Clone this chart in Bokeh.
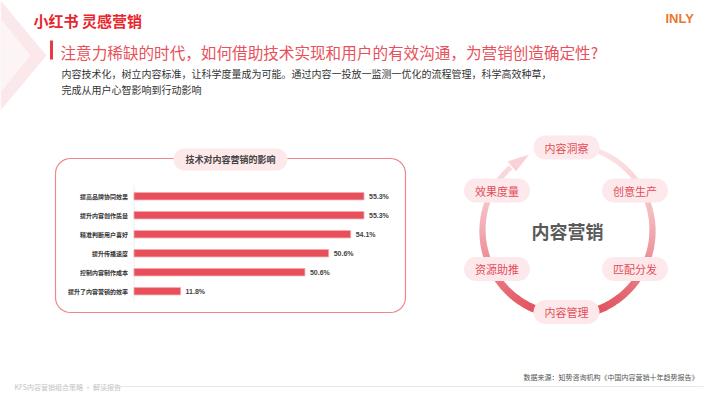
import numpy as np
from bokeh.plotting import figure
from bokeh.models import Range1d
from bokeh.core.properties import value
from bokeh.embed import file_html
from bokeh.resources import INLINE

# ---------------- data ----------------
categories = ["提高品牌协同效果", "提升内容创作质量", "精准判断用户喜好",
              "提升传播速度", "控制内容制作成本", "提升了内容营销的效率"]
label_values = [55.3, 55.3, 54.1, 50.6, 50.6, 11.8]      # printed percentages
bar_lengths = [55.3, 55.3, 52.1, 46.8, 41.1, 11.2]        # bar lengths as drawn in the source graphic
cycle_steps = ["内容洞察", "创意生产", "匹配分发", "内容管理", "资源助推", "效果度量"]

CJK = value("Noto Sans CJK SC")
LAT = value("Liberation Sans")

FW, FH = 704, 396
p = figure(width=FW, height=FH, x_range=Range1d(0, FW), y_range=Range1d(405 - FH, 405),
           output_backend="svg", toolbar_location=None, min_border=0,
           x_axis_location=None, y_axis_location=None)
p.grid.visible = False
p.outline_line_color = None
p.background_fill_color = "white"
p.border_fill_color = "white"


def Y(y):
    return 405 - y


def txt(x, y, s, size, color, align="left", bold=False, font=CJK):
    p.text(x=[x], y=[Y(y)], text=[s], text_font=font, text_font_size=f"{size}px",
           text_color=color, text_align=align, text_baseline="middle",
           text_font_style="bold" if bold else "normal")


def rrect(x0, y0, x1, y1, r, n=10):
    xs, ys = [], []
    corners = [(x1 - r, y0 + r, -90, 0), (x1 - r, y1 - r, 0, 90),
               (x0 + r, y1 - r, 90, 180), (x0 + r, y0 + r, 180, 270)]
    for cx, cy, a0, a1 in corners:
        for a in np.linspace(np.radians(a0), np.radians(a1), n):
            xs.append(cx + r * np.cos(a))
            ys.append(Y(cy + r * np.sin(a)))
    return xs, ys


# ---------------- header decoration ----------------
p.patch([0, 46, 0], [Y(0), Y(55), Y(110)], fill_color="#fbe6e8", line_color=None, fill_alpha=0.9)
p.patch([0, 30, 0], [Y(18), Y(55), Y(92)], fill_color="#fdf4f5", line_color=None)

txt(33, 20, "小红书 灵感营销", 15, "#e8262d", bold=True)
txt(665, 18, "INLY", 13, "#e8782c", bold=True, font=LAT)
p.quad(left=[49.5], right=[52.5], top=[Y(40)], bottom=[Y(59)], fill_color="#e83a45", line_color=None)
txt(60, 51, "注意力稀缺的时代，如何借助技术实现和用户的有效沟通，为营销创造确定性?", 15.6, "#e8515b")
txt(61, 73, "内容技术化，树立内容标准，让科学度量成为可能。通过内容一投放一监测一优化的流程管理，科学高效种草，",
    10, "#333333")
txt(61, 89, "完成从用户心智影响到行动影响", 10, "#333333")

# ---------------- bar panel ----------------
xs, ys = rrect(55, 158, 405, 312, 15)
p.patch(xs, ys, fill_color="white", line_color="#f0868c", line_width=1.2)
xs, ys = rrect(173, 148, 287, 170, 11)
p.patch(xs, ys, fill_color="#fde8ea", line_color=None)
txt(230, 159, "技术对内容营销的影响", 9, "#444444", align="center", bold=True)

# bar chart mapped through extra ranges: value 0 at px 133.5, 55.3 at px 363.5; rows 19px apart
bar_x0, px_per_unit = 133.5, 230.0 / 55.3
row0, row_step = 195.7, 19.0
p.extra_x_ranges = {"bars": Range1d((0 - bar_x0) / px_per_unit, (FW - bar_x0) / px_per_unit)}
p.extra_y_ranges = {"rows": Range1d((FH - row0) / row_step, (0 - row0) / row_step)}
idx = list(range(len(categories)))

p.segment(x0=[0], y0=[-0.6], x1=[0], y1=[len(categories) - 0.4], line_color="#eeeeee",
          line_width=1, x_range_name="bars", y_range_name="rows")
p.hbar(y=idx, left=0, right=bar_lengths, height=0.39, fill_color="#e84f5b",
       line_color="#f4aab0", line_width=0.8, x_range_name="bars", y_range_name="rows")
p.text(x=[0] * len(idx), y=idx, text=categories, x_offset=-6, text_align="right",
       text_baseline="middle", text_font=CJK, text_font_size="6px", text_font_style="bold",
       text_color="#333333", x_range_name="bars", y_range_name="rows")
p.text(x=bar_lengths, y=idx, text=[f"{v}%" for v in label_values], x_offset=5,
       text_align="left", text_baseline="middle", text_font=LAT, text_font_size="7px",
       text_font_style="bold", text_color="#444444", x_range_name="bars", y_range_name="rows")

# ---------------- cycle diagram ----------------
cx, cy, r = 567.0, 230.0, 85.0
light = np.array([0xfb, 0xe3, 0xe6])
dark = np.array([0xe0, 0x4c, 0x57])
ang = np.linspace(np.radians(132), np.radians(452), 200)
a0s, a1s, ins, outs, cols = [], [], [], [], []
for a, b in zip(ang[:-1], ang[1:]):
    m = (a + b) / 2
    t = ((1 - np.sin(m)) / 2) ** 1.4
    c = light + (dark - light) * t
    w = 5.0 + 3.0 * t
    a0s.append(a)
    a1s.append(b + 0.006)
    ins.append(r - w / 2)
    outs.append(r + w / 2)
    cols.append("#%02x%02x%02x" % tuple(int(round(v)) for v in c))
p.annular_wedge(x=cx, y=Y(cy), inner_radius=ins, outer_radius=outs, start_angle=a0s,
                end_angle=a1s, fill_color=cols, line_color=None)

# arrow head at the end of the ring
tip_a, base_a = np.radians(117), np.radians(131)
tip = (cx + r * np.cos(tip_a), Y(cy) + r * np.sin(tip_a))
bx, by = cx + r * np.cos(base_a), Y(cy) + r * np.sin(base_a)
nx, ny = np.cos(base_a), np.sin(base_a)
hw = 6.5
p.patch([tip[0], bx + nx * hw, bx - nx * hw], [tip[1], by + ny * hw, by - ny * hw],
        fill_color="#f8d2d6", line_color=None)

node_pos = [(566, 147), (634.5, 190), (634.5, 268.5), (566, 311.5), (496.5, 268.5), (496.5, 190)]
for (nxp, nyp), label in zip(node_pos, cycle_steps):
    xs, ys = rrect(nxp - 33, nyp - 12, nxp + 33, nyp + 12, 12)
    p.patch(xs, ys, fill_color="#fde9eb", line_color=None)
    txt(nxp, nyp, label, 11, "#e24e58", align="center")

txt(567, 230, "内容营销", 18, "#5a5a5a", align="center", bold=True)

# ---------------- footer ----------------
txt(698, 376, "数据来源：知势咨询机构《中国内容营销十年趋势报告》", 7, "#555555", align="right")
txt(14, 386, "KFS内容营销组合策略 · 解读报告", 7, "#c4c4c4")
p.segment(x0=[100], y0=[Y(386)], x1=[703], y1=[Y(386)], line_color="#e8e8e8", line_width=1)

open("out.html", "w").write(file_html(p, INLINE))
